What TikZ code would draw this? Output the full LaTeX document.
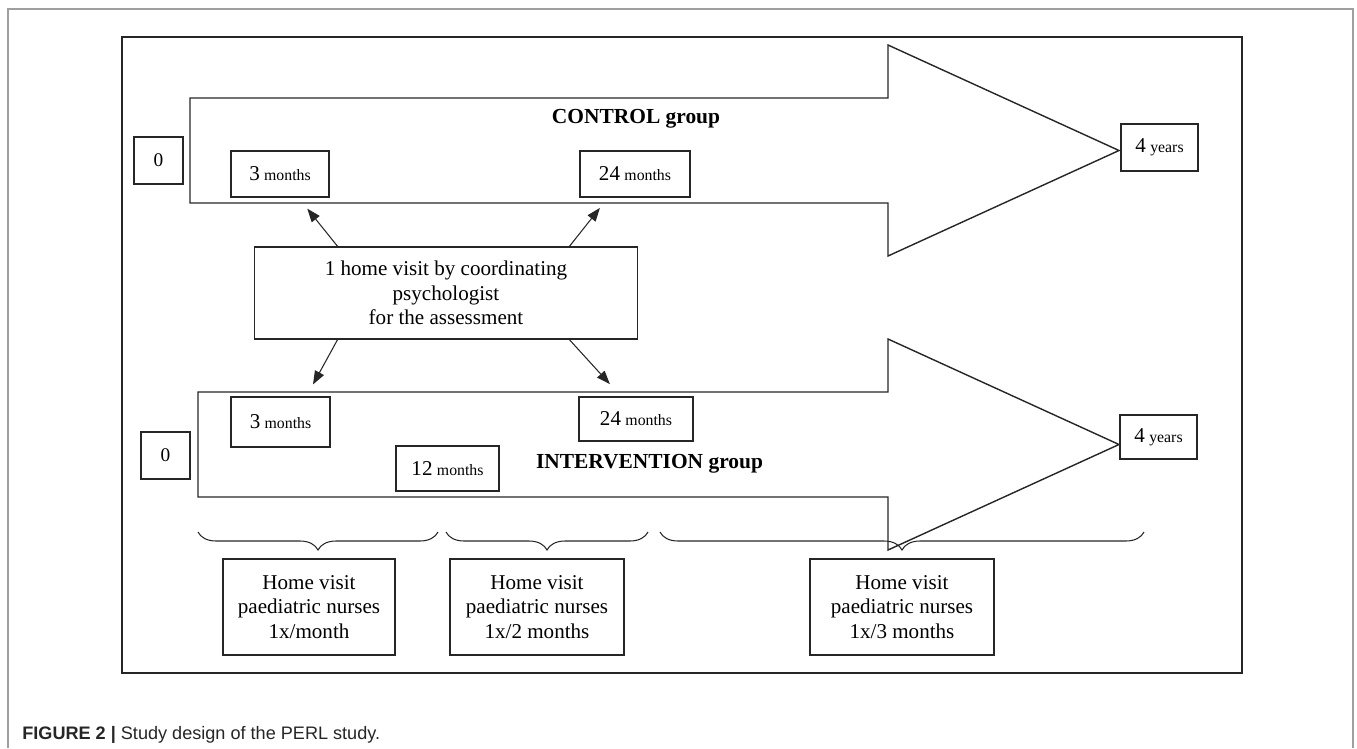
\documentclass[tikz,border=0pt]{standalone}
\usepackage{fontspec}
\setmainfont{Liberation Serif}
\setsansfont{Liberation Sans}
\usetikzlibrary{arrows.meta,decorations.pathreplacing}

\newcommand{\tpoint}[2]{{\fontsize{12}{13}\selectfont #1} {\fontsize{9}{10}\selectfont #2}}

\tikzset{
	box/.style={draw=black!85, line width=0.8pt, inner sep=0pt, align=center},
	sz/.style 2 args={minimum width=#1*0.02cm, minimum height=#2*0.02cm},
	txt/.style={font=\fontsize{12}{13.8}\selectfont},
	grp/.style={font=\bfseries\fontsize{12.2}{14}\selectfont, anchor=base, inner sep=0pt},
	bigarrow/.style={draw=black!85, line width=0.8pt, line join=miter},
	visitarrow/.style={draw=black!85, line width=0.6pt, -{Triangle[length=0.27cm,width=0.2cm]}},
	brace/.style={draw=black!85, line width=0.6pt, decorate, decoration={brace, mirror, amplitude=0.36cm}}
}

\begin{document}
\begin{tikzpicture}[x=0.02cm, y=-0.02cm]

	\def\xHead{888}
	\def\xTip{1119}
	\def\yCtrl{150.5}
	\def\yInt{444.5}
	\def\shaft{52.5}
	\def\head{105.5}

	%FRAMES
	\useasboundingbox (0,0) rectangle (1357,748);
	\draw[draw=gray!75, line width=1pt] (8,748) |- (1353,9) -- (1353,748);
	\draw[draw=black!85, line width=0.8pt] (122,37) rectangle (1242,673);

	%ARROW: CONTROL
	\draw[bigarrow] (190,\yCtrl-\shaft) -- (\xHead,\yCtrl-\shaft) -- (\xHead,\yCtrl-\head) -- (\xTip,\yCtrl) -- (\xHead,\yCtrl+\head) -- (\xHead,\yCtrl+\shaft) -- (190,\yCtrl+\shaft) -- cycle;

	%ARROW: INTERVENTION
	\draw[bigarrow] (198,\yInt-\shaft) -- (\xHead,\yInt-\shaft) -- (\xHead,\yInt-\head) -- (\xTip,\yInt) -- (\xHead,\yInt+\head) -- (\xHead,\yInt+\shaft) -- (198,\yInt+\shaft) -- cycle;

	%BOXES: CONTROL
	\node[box, sz={49}{47}] (c0) at (158.5,160.5) {\fontsize{11}{12}\selectfont 0};
	\node[box, sz={98}{46}] (c3) at (280,174) {\tpoint{3}{months}};
	\node[box, sz={110}{46}] (c24) at (635,174) {\tpoint{24}{months}};
	\node[box, sz={77}{47}] (c4) at (1159.5,147.5) {\tpoint{4}{years}};
	\node[grp] (ctrl) at (636,123) {CONTROL group};

	%BOX: PSYCHOLOGIST
	\node[box, txt, sz={383}{92}] (visit) at (446,293) {1 home visit by coordinating\\psychologist\\for the assessment};

	%BOXES: INTERVENTION
	\node[box, sz={49}{47}] (i0) at (165.5,455.5) {\fontsize{11}{12}\selectfont 0};
	\node[box, sz={99}{50}] (i3) at (280.5,422) {\tpoint{3}{months}};
	\node[box, sz={103}{45}] (i12) at (447.5,468.5) {\tpoint{12}{months}};
	\node[box, sz={114}{44}] (i24) at (636,419) {\tpoint{24}{months}};
	\node[box, sz={77}{44}] (i4) at (1158.5,437) {\tpoint{4}{years}};
	\node[grp] (intv) at (649.5,468) {INTERVENTION group};

	%ARROWS: ASSESSMENT
	\draw[visitarrow, shorten >=0.28cm] ([xshift=-2.17cm]visit.north) -- ([xshift=0.37cm]c3.south);
	\draw[visitarrow, shorten >=0.26cm] ([xshift=2.47cm]visit.north) -- ([xshift=-0.54cm]c24.south);
	\draw[visitarrow, shorten >=0.27cm] ([xshift=-2.17cm]visit.south) -- ([xshift=0.52cm]i3.north);
	\draw[visitarrow, shorten >=0.33cm] ([xshift=2.47cm]visit.south) -- ([xshift=-0.30cm]i24.north);

	%BRACES
	\draw[brace] (198,532) -- (438,532);
	\draw[brace] (446,532) -- (648,532);
	\draw[brace] (660,532) -- (1144,532);

	%BOXES: NURSES
	\node[box, txt, sz={172}{96}] (n1) at (309,607) {Home visit\\paediatric nurses\\1x/month};
	\node[box, txt, sz={174}{96}] (n2) at (537,607) {Home visit\\paediatric nurses\\1x/2 months};
	\node[box, txt, sz={184}{96}] (n3) at (902,607) {Home visit\\paediatric nurses\\1x/3 months};

	%CAPTION
	\node[anchor=base west, inner sep=0pt, text=black!85, font=\sffamily\fontsize{10.3}{12}\selectfont] (cap) at (22,739) {\textbf{FIGURE 2 |} Study design of the PERL study.};

\end{tikzpicture}
\end{document}
